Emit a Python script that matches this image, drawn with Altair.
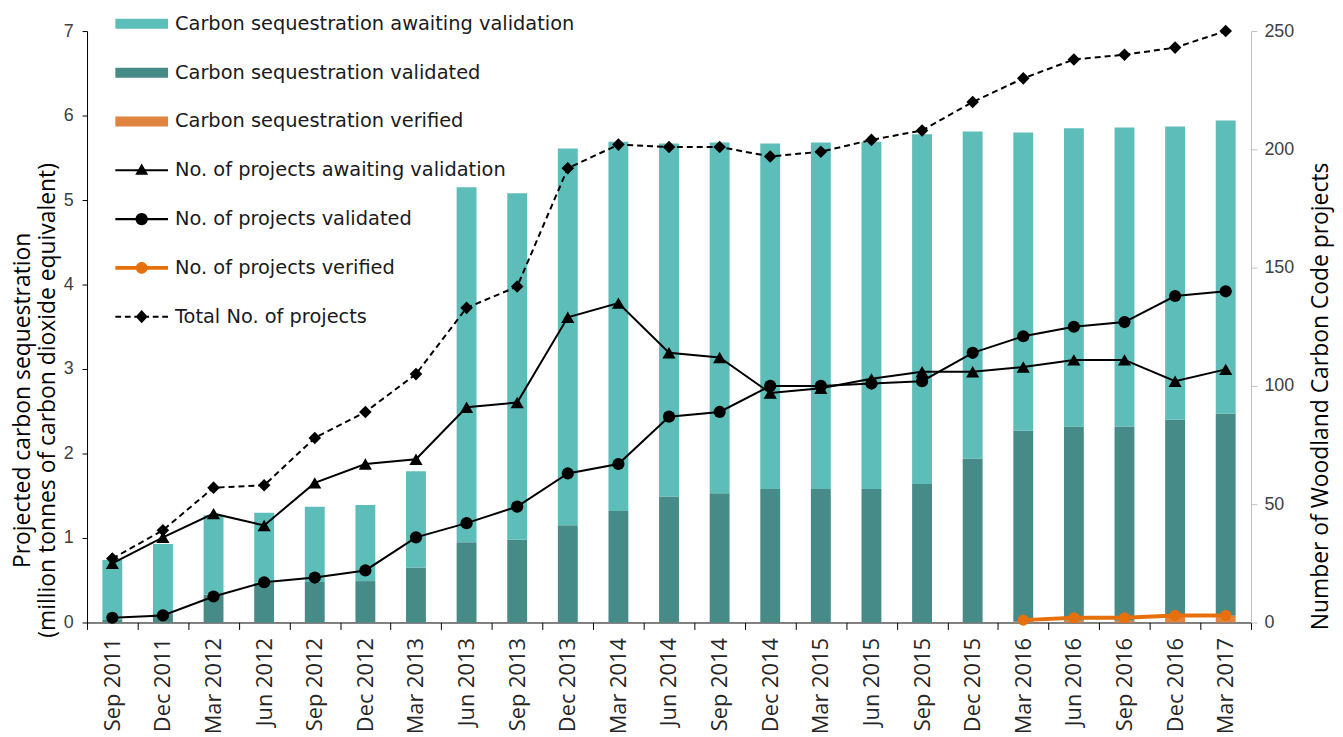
import altair as alt
import pandas as pd

dates = ["Sep 2011", "Dec 2011", "Mar 2012", "Jun 2012", "Sep 2012", "Dec 2012",
         "Mar 2013", "Jun 2013", "Sep 2013", "Dec 2013", "Mar 2014", "Jun 2014",
         "Sep 2014", "Dec 2014", "Mar 2015", "Jun 2015", "Sep 2015", "Dec 2015",
         "Mar 2016", "Jun 2016", "Sep 2016", "Dec 2016", "Mar 2017"]

# million tonnes CO2e (stack segments)
carbon_verified = [0, 0, 0, 0, 0, 0, 0, 0, 0, 0, 0, 0, 0, 0, 0, 0, 0, 0,
                   0.01, 0.02, 0.02, 0.08, 0.08]
carbon_validated = [0.03, 0.10, 0.33, 0.47, 0.48, 0.49, 0.65, 0.95, 0.98, 1.15, 1.32, 1.49,
                    1.53, 1.58, 1.58, 1.58, 1.64, 1.94, 2.26, 2.30, 2.30, 2.32, 2.39]
carbon_awaiting = [0.71, 0.83, 0.94, 0.83, 0.89, 0.90, 1.14, 4.20, 4.10, 4.46, 4.37, 4.18,
                   4.15, 4.09, 4.10, 4.11, 4.14, 3.87, 3.53, 3.53, 3.54, 3.47, 3.47]

# number of projects
proj_awaiting = [25, 36, 46, 41, 59, 67, 69, 91, 93, 129, 135, 114, 112, 97, 99, 103, 106,
                 106, 108, 111, 111, 102, 107]
proj_validated = [2, 3, 11, 17, 19, 22, 36, 42, 49, 63, 67, 87, 89, 100, 100, 101, 102,
                  114, 121, 125, 127, 138, 140]
proj_verified = [None] * 18 + [1, 2, 2, 3, 3]
proj_total = [27, 39, 57, 58, 78, 89, 105, 133, 142, 192, 202, 201, 201, 197, 199, 204, 208,
              220, 230, 238, 240, 243, 250]

S_CA = "Carbon sequestration awaiting validation"
S_CV = "Carbon sequestration validated"
S_CF = "Carbon sequestration verified"
S_PA = "No. of projects awaiting validation"
S_PV = "No. of projects validated"
S_PF = "No. of projects verified"
S_PT = "Total No. of projects"
legend_order = [S_CA, S_CV, S_CF, S_PA, S_PV, S_PF, S_PT]
legend_colors = ["#5dbdb9", "#478b88", "#e0843f", "#000000", "#000000", "#e8700c", "#000000"]

BAR_PATH = "M-1,-0.19H1V0.19H-1Z"
TRI_PATH = "M-1,-0.04H1V0.04H-1Z M0,-0.26L0.245,0.17L-0.245,0.17Z"
CIRC_PATH = ("M-1,-0.04H1V0.04H-1Z M-0.235,0A0.235,0.235,0,1,1,0.235,0"
             "A0.235,0.235,0,1,1,-0.235,0Z")
ORANGE_PATH = ("M-1,-0.07H1V0.07H-1Z M-0.22,0A0.22,0.22,0,1,1,0.22,0"
               "A0.22,0.22,0,1,1,-0.22,0Z")
DASH_PATH = ("M-1,-0.04H-0.78V0.04H-1Z M-0.64,-0.04H-0.42V0.04H-0.64Z "
             "M-0.28,-0.04H-0.1V0.04H-0.28Z M0.1,-0.04H0.28V0.04H0.1Z "
             "M0.42,-0.04H0.64V0.04H0.42Z M0.78,-0.04H1V0.04H0.78Z "
             "M0,-0.25L0.23,0L0,0.25L-0.23,0Z")
legend_shapes = [BAR_PATH, BAR_PATH, BAR_PATH, TRI_PATH, CIRC_PATH, ORANGE_PATH, DASH_PATH]

bar_rows = []
for i, d in enumerate(dates):
    for s, vals, rank in [(S_CF, carbon_verified, 0), (S_CV, carbon_validated, 1),
                          (S_CA, carbon_awaiting, 2)]:
        bar_rows.append({"date": d, "series": s, "value": vals[i], "rank": rank})
bars_df = pd.DataFrame(bar_rows)

line_rows = []
for i, d in enumerate(dates):
    for s, vals in [(S_PA, proj_awaiting), (S_PV, proj_validated),
                    (S_PF, proj_verified), (S_PT, proj_total)]:
        if vals[i] is not None:
            line_rows.append({"date": d, "series": s, "value": vals[i]})
lines_df = pd.DataFrame(line_rows)
legend_df = pd.DataFrame({"series": legend_order})

x_enc = alt.X(
    "date:N", sort=dates,
    scale=alt.Scale(paddingInner=0, paddingOuter=0),
    axis=alt.Axis(title=None, labelAngle=-90, tickBand="extent", labelFont="Open Sans",
                  labelFontSize=22, labelColor="#262626", labelPadding=8, tickSize=7,
                  domainColor="#000000", tickColor="#000000", grid=False),
)

color_scale = alt.Scale(domain=legend_order, range=legend_colors)

bars = alt.Chart(bars_df).mark_bar(size=20).encode(
    x=x_enc,
    y=alt.Y("value:Q", stack="zero",
            scale=alt.Scale(domain=[0, 7], nice=False),
            axis=alt.Axis(orient="left", values=list(range(8)), grid=False,
                          domainColor="#000000", tickColor="#000000", tickSize=5,
                          labelFont="Liberation Sans", labelFontSize=18,
                          labelColor="#404040", labelPadding=9,
                          title=["Projected carbon sequestration",
                                 "(million tonnes of carbon dioxide equivalent)"],
                          titleFont="Open Sans", titleFontSize=23, titleFontWeight="normal",
                          titleColor="#000000", titleAngle=270, titleAlign="center",
                          titleBaseline="top", titleLineHeight=25, titleX=-76, titleY=371)),
    color=alt.Color("series:N", scale=color_scale, legend=None),
    order=alt.Order("rank:Q", sort="ascending"),
)

leg = dict(title=None, orient="none", legendX=28.5, legendY=-33.75, symbolSize=2809,
           symbolStrokeWidth=0, symbolOpacity=1, labelOffset=7, rowPadding=13.1,
           labelFont="DejaVu Sans", labelFontSize=19.5, labelColor="#1a1a1a",
           labelLimit=0, padding=0)

legend_layer = alt.Chart(legend_df).transform_filter("false").mark_point(
    filled=True, opacity=1).encode(
    color=alt.Color("series:N", scale=color_scale, legend=alt.Legend(**leg)),
    shape=alt.Shape("series:N", scale=alt.Scale(domain=legend_order, range=legend_shapes),
                    legend=alt.Legend(**leg)),
)

y_right = alt.Y("value:Q", scale=alt.Scale(domain=[0, 250], nice=False),
                axis=alt.Axis(orient="right", values=[0, 50, 100, 150, 200, 250], grid=False,
                              domainColor="#bfbfbf", tickColor="#bfbfbf", tickSize=6,
                              labelFont="Liberation Sans", labelFontSize=18,
                              labelColor="#404040", labelPadding=7,
                              title="Number of Woodland Carbon Code projects",
                              titleFont="Open Sans", titleFontSize=23,
                              titleFontWeight="normal", titleColor="#000000",
                              titleAngle=270, titleAlign="center", titleBaseline="top",
                              titleX=59, titleY=367))

base = alt.Chart(lines_df).encode(x=x_enc, y=y_right)


def sel(s):
    return base.transform_filter(alt.datum.series == s)


l_aw = sel(S_PA).mark_line(color="#000000", strokeWidth=2)
p_aw = sel(S_PA).mark_point(shape="triangle-up", filled=True, size=175, color="#000000",
                            opacity=1)
l_va = sel(S_PV).mark_line(color="#000000", strokeWidth=2)
p_va = sel(S_PV).mark_point(shape="circle", filled=True, size=150, color="#000000",
                            opacity=1)
l_ve = sel(S_PF).mark_line(color="#e8700c", strokeWidth=4)
p_ve = sel(S_PF).mark_point(shape="circle", filled=True, size=125, color="#e8700c",
                            opacity=1)
l_to = sel(S_PT).mark_line(color="#000000", strokeWidth=2, strokeDash=[6, 4])
p_to = sel(S_PT).mark_point(shape="diamond", filled=True, size=160, color="#000000",
                            opacity=1)

bar_group = alt.layer(legend_layer, bars)
line_group = alt.layer(l_ve, l_aw, l_va, l_to, p_ve, p_aw, p_va, p_to)

chart = alt.layer(bar_group, line_group).resolve_scale(y="independent").properties(
    width=1171, height=595,
    autosize=alt.AutoSizeParams(type="none"),
    padding={"left": 79.5, "top": 21, "right": 84.5, "bottom": 113},
).configure_view(stroke="transparent")

chart.save("out.html", embed_options={"renderer": "svg", "actions": False})
